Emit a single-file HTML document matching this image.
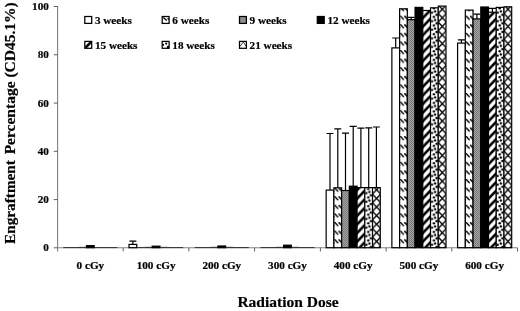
<!DOCTYPE html>
<html><head><meta charset="utf-8"><title>Engraftment Percentage by Radiation Dose</title>
<style>
html,body{margin:0;padding:0;background:#fff;}
body{width:520px;height:311px;overflow:hidden;}
svg{display:block;will-change:transform;}
text{font-family:"Liberation Serif","Times New Roman",serif;font-weight:bold;fill:#000;stroke:#000;stroke-width:0.2px;}
.t{font-size:11.2px;}
.a{font-size:15.5px;}
</style></head><body>
<svg width="520" height="311" viewBox="0 0 520 311">
<defs>
<pattern id="p6" width="8.214" height="8.6" patternUnits="userSpaceOnUse" patternTransform="translate(1.7,7.0)">
<rect width="8.214" height="8.6" fill="#fff"/>
<path d="M0,0L3.9,4.1M4.107,0L8.007,4.1" stroke="#000" stroke-width="1.5" fill="none"/>
</pattern>
<pattern id="p9" width="2" height="2" patternUnits="userSpaceOnUse">
<rect width="2" height="2" fill="#a2a2a2"/>
<rect x="0" y="0" width="1" height="1" fill="#7a7a7a"/><rect x="1" y="1" width="1" height="1" fill="#7a7a7a"/>
</pattern>
<pattern id="p15" width="8.214" height="8.6" patternUnits="userSpaceOnUse" patternTransform="translate(4.73,0)">
<rect width="8.214" height="8.6" fill="#fff"/>
<path d="M-2.054,2.150L2.054,-2.150M-2.054,10.750L10.268,-2.150M6.161,10.750L10.268,6.450" stroke="#000" stroke-width="2.5" fill="none"/>
</pattern>
<pattern id="p18" width="8.214" height="8.6" patternUnits="userSpaceOnUse" patternTransform="translate(2.56,7.1)">
<rect width="8.214" height="8.6" fill="#fff"/>
<circle cx="4.3" cy="1.2" r="1.2" fill="#000"/>
<circle cx="5.45" cy="4.2" r="1.2" fill="#000"/>
<circle cx="2.3" cy="5.4" r="1.2" fill="#000"/>
<circle cx="6.95" cy="7.7" r="1.2" fill="#000"/><circle cx="6.95" cy="-0.9" r="1.2" fill="#000"/>
</pattern>
<pattern id="p21" width="8.214" height="8.6" patternUnits="userSpaceOnUse" patternTransform="translate(2.84,4.9)">
<rect width="8.214" height="8.6" fill="#fff"/>
<path d="M0,0L8.214,8.6M8.214,0L0,8.6" stroke="#000" stroke-width="1.35" fill="none"/>
</pattern>
</defs>
<rect width="520" height="311" fill="#fff"/>
<g stroke="#858585" stroke-width="1.15" fill="none">
<path d="M57.6,6.0V251.4"/>
<path d="M57.6,247.7H517.5"/>
</g>
<g stroke="#555" stroke-width="0.95" fill="none">
<path d="M53.8,247.8H57.6"/>
<path d="M53.8,199.6H57.6"/>
<path d="M53.8,151.3H57.6"/>
<path d="M53.8,103.1H57.6"/>
<path d="M53.8,54.8H57.6"/>
<path d="M53.8,6.5H57.6"/>
<path d="M123.2,247.7V251.4"/>
<path d="M188.9,247.7V251.4"/>
<path d="M254.6,247.7V251.4"/>
<path d="M320.4,247.7V251.4"/>
<path d="M386.1,247.7V251.4"/>
<path d="M451.8,247.7V251.4"/>
<path d="M517.5,247.7V251.4"/>
</g>
<g stroke="#000" stroke-width="1.2">
<path d="M63.30,247.60h7.73" stroke-width="0.9" stroke="#222" fill="none"/>
<path d="M71.03,247.60h7.73" stroke-width="0.9" stroke="#222" fill="none"/>
<path d="M78.76,247.60h7.73" stroke-width="0.9" stroke="#222" fill="none"/>
<path d="M78.76,247.20h7.73" stroke-width="0.5" stroke="#333" fill="none"/>
<rect x="86.49" y="245.65" width="7.73" height="2.05" fill="#000"/>
<path d="M94.22,247.60h7.73" stroke-width="0.9" stroke="#222" fill="none"/>
<path d="M101.95,247.60h7.73" stroke-width="0.9" stroke="#222" fill="none"/>
<path d="M109.68,247.60h7.73" stroke-width="0.9" stroke="#222" fill="none"/>
<path d="M132.9,244.4V241.2M129.4,241.2H136.4" fill="none"/>
<rect x="129.01" y="244.40" width="7.73" height="3.30" fill="#fff"/>
<path d="M136.74,247.60h7.73" stroke-width="0.9" stroke="#222" fill="none"/>
<path d="M144.47,247.60h7.73" stroke-width="0.9" stroke="#222" fill="none"/>
<path d="M144.47,247.20h7.73" stroke-width="0.5" stroke="#333" fill="none"/>
<rect x="152.21" y="246.20" width="7.73" height="1.50" fill="#000"/>
<path d="M159.94,247.60h7.73" stroke-width="0.9" stroke="#222" fill="none"/>
<path d="M159.94,247.20h7.73" stroke-width="0.5" stroke="#333" fill="none"/>
<path d="M167.67,247.60h7.73" stroke-width="0.9" stroke="#222" fill="none"/>
<path d="M175.40,247.60h7.73" stroke-width="0.9" stroke="#222" fill="none"/>
<path d="M194.73,247.60h7.73" stroke-width="0.9" stroke="#222" fill="none"/>
<path d="M202.46,247.60h7.73" stroke-width="0.9" stroke="#222" fill="none"/>
<path d="M210.19,247.60h7.73" stroke-width="0.9" stroke="#222" fill="none"/>
<path d="M210.19,247.20h7.73" stroke-width="0.5" stroke="#333" fill="none"/>
<rect x="217.92" y="246.00" width="7.73" height="1.70" fill="#000"/>
<path d="M225.65,247.60h7.73" stroke-width="0.9" stroke="#222" fill="none"/>
<path d="M225.65,247.20h7.73" stroke-width="0.5" stroke="#333" fill="none"/>
<path d="M233.38,247.60h7.73" stroke-width="0.9" stroke="#222" fill="none"/>
<path d="M241.11,247.60h7.73" stroke-width="0.9" stroke="#222" fill="none"/>
<path d="M260.44,247.60h7.73" stroke-width="0.9" stroke="#222" fill="none"/>
<path d="M268.17,247.60h7.73" stroke-width="0.9" stroke="#222" fill="none"/>
<path d="M275.90,247.60h7.73" stroke-width="0.9" stroke="#222" fill="none"/>
<path d="M275.90,247.20h7.73" stroke-width="0.5" stroke="#333" fill="none"/>
<rect x="283.63" y="245.20" width="7.73" height="2.50" fill="#000"/>
<path d="M291.37,247.60h7.73" stroke-width="0.9" stroke="#222" fill="none"/>
<path d="M291.37,247.20h7.73" stroke-width="0.5" stroke="#333" fill="none"/>
<path d="M299.10,247.60h7.73" stroke-width="0.9" stroke="#222" fill="none"/>
<path d="M306.83,247.60h7.73" stroke-width="0.9" stroke="#222" fill="none"/>
<path d="M330.0,190.1V133.5M326.5,133.5H333.5" fill="none"/>
<rect x="326.16" y="190.10" width="7.73" height="57.60" fill="#fff"/>
<path d="M337.8,187.8V128.8M334.3,128.8H341.3" fill="none"/>
<rect x="333.89" y="187.80" width="7.73" height="59.90" fill="url(#p6)"/>
<path d="M345.5,190.5V133.2M342.0,133.2H349.0" fill="none"/>
<rect x="341.62" y="190.50" width="7.73" height="57.20" fill="url(#p9)"/>
<path d="M353.2,186.2V126.4M349.7,126.4H356.7" fill="none"/>
<rect x="349.35" y="186.20" width="7.73" height="61.50" fill="#000"/>
<path d="M360.9,187.6V128.1M357.4,128.1H364.4" fill="none"/>
<rect x="357.08" y="187.60" width="7.73" height="60.10" fill="url(#p15)"/>
<path d="M368.7,187.6V127.8M365.2,127.8H372.2" fill="none"/>
<rect x="364.81" y="187.60" width="7.73" height="60.10" fill="url(#p18)"/>
<path d="M376.4,187.6V127.0M372.9,127.0H379.9" fill="none"/>
<rect x="372.54" y="187.60" width="7.73" height="60.10" fill="url(#p21)"/>
<path d="M395.7,47.9V38.0M392.2,38.0H399.2" fill="none"/>
<rect x="391.87" y="47.90" width="7.73" height="199.80" fill="#fff"/>
<rect x="399.60" y="8.80" width="7.73" height="238.90" fill="url(#p6)"/>
<path d="M411.2,19.6V17.3M407.7,17.3H414.7" fill="none"/>
<rect x="407.33" y="19.60" width="7.73" height="228.10" fill="url(#p9)"/>
<rect x="415.06" y="7.40" width="7.73" height="240.30" fill="#000"/>
<rect x="422.79" y="10.50" width="7.73" height="237.20" fill="url(#p15)"/>
<rect x="430.53" y="7.80" width="7.73" height="239.90" fill="url(#p18)"/>
<rect x="438.26" y="6.10" width="7.73" height="241.60" fill="url(#p21)"/>
<path d="M461.4,43.1V39.8M457.9,39.8H464.9" fill="none"/>
<rect x="457.58" y="43.10" width="7.73" height="204.60" fill="#fff"/>
<rect x="465.32" y="10.10" width="7.73" height="237.60" fill="url(#p6)"/>
<path d="M476.9,18.9V14.2M473.4,14.2H480.4" fill="none"/>
<rect x="473.05" y="18.90" width="7.73" height="228.80" fill="url(#p9)"/>
<rect x="480.78" y="7.00" width="7.73" height="240.70" fill="#000"/>
<path d="M492.4,12.2V8.4M488.9,8.4H495.9" fill="none"/>
<rect x="488.51" y="12.20" width="7.73" height="235.50" fill="url(#p15)"/>
<rect x="496.24" y="7.40" width="7.73" height="240.30" fill="url(#p18)"/>
<rect x="503.97" y="6.80" width="7.73" height="240.90" fill="url(#p21)"/>
</g>
<text class="t" x="48.9" y="251.4" text-anchor="end">0</text>
<text class="t" x="48.9" y="203.1" text-anchor="end">20</text>
<text class="t" x="48.9" y="154.9" text-anchor="end">40</text>
<text class="t" x="48.9" y="106.6" text-anchor="end">60</text>
<text class="t" x="48.9" y="58.4" text-anchor="end">80</text>
<text class="t" x="48.9" y="10.1" text-anchor="end">100</text>
<text class="t" x="90.4" y="268.5" text-anchor="middle">0 cGy</text>
<text class="t" x="156.1" y="268.5" text-anchor="middle">100 cGy</text>
<text class="t" x="221.8" y="268.5" text-anchor="middle">200 cGy</text>
<text class="t" x="287.5" y="268.5" text-anchor="middle">300 cGy</text>
<text class="t" x="353.2" y="268.5" text-anchor="middle">400 cGy</text>
<text class="t" x="418.9" y="268.5" text-anchor="middle">500 cGy</text>
<text class="t" x="484.6" y="268.5" text-anchor="middle">600 cGy</text>
<text class="a" x="288" y="306.9" text-anchor="middle">Radiation Dose</text>
<text class="a" transform="translate(14.7,243.9) rotate(-90)" text-anchor="start" textLength="83.8" lengthAdjust="spacingAndGlyphs">Engraftment</text>
<text class="a" transform="translate(14.7,2.25) rotate(-90)" text-anchor="end">Percentage (CD45.1%)</text>
<g transform="translate(84.8,16.5)"><rect width="6.9" height="6.9" fill="#fff"/><rect width="6.9" height="6.9" fill="none" stroke="#000" stroke-width="1.25"/></g>
<text class="t" x="94.9" y="23.7">3 weeks</text>
<g transform="translate(162.2,16.5)"><rect width="6.9" height="6.9" fill="#fff"/><path d="M1.1,1L4.6,4.1M5.4,1.8L6.8,3" stroke="#000" stroke-width="1.3" fill="none"/><rect width="6.9" height="6.9" fill="none" stroke="#000" stroke-width="1.25"/></g>
<text class="t" x="172.3" y="23.7">6 weeks</text>
<g transform="translate(239.5,16.5)"><rect width="6.9" height="6.9" fill="url(#p9)"/><rect width="6.9" height="6.9" fill="none" stroke="#000" stroke-width="1.25"/></g>
<text class="t" x="249.6" y="23.7">9 weeks</text>
<g transform="translate(317.3,16.5)"><rect width="6.9" height="6.9" fill="#000"/><rect width="6.9" height="6.9" fill="none" stroke="#000" stroke-width="1.25"/></g>
<text class="t" x="327.4" y="23.7">12 weeks</text>
<g transform="translate(84.8,41.4)"><rect width="6.9" height="6.9" fill="#fff"/><path d="M0.7,6.2L6.2,0.7" stroke="#000" stroke-width="2.6" fill="none"/><rect width="6.9" height="6.9" fill="none" stroke="#000" stroke-width="1.25"/></g>
<text class="t" x="94.9" y="48.6">15 weeks</text>
<g transform="translate(162.2,41.4)"><rect width="6.9" height="6.9" fill="#fff"/><circle cx="4" cy="2.2" r="1.1"/><circle cx="0.9" cy="3.4" r="1.1"/><circle cx="5.9" cy="5.7" r="1.3"/><rect width="6.9" height="6.9" fill="none" stroke="#000" stroke-width="1.25"/></g>
<text class="t" x="172.3" y="48.6">18 weeks</text>
<g transform="translate(239.5,41.4)"><rect width="6.9" height="6.9" fill="#fff"/><path d="M0.4,5.2L3.9,0.5L6.6,5.2" stroke="#222" stroke-width="0.85" fill="none"/><rect width="6.9" height="6.9" fill="none" stroke="#000" stroke-width="1.25"/></g>
<text class="t" x="249.6" y="48.6">21 weeks</text>
</svg></body></html>
